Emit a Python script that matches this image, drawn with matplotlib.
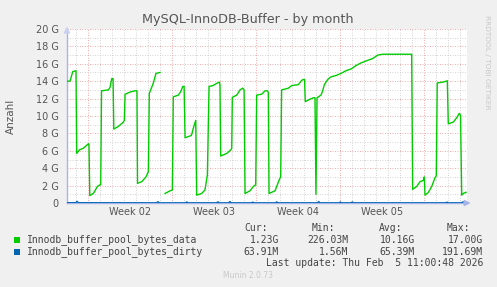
import numpy as np
import matplotlib
matplotlib.use("Agg")
import matplotlib.pyplot as plt

# ---- data (days relative to Monday of Week 02, values in G) ----
data_days = [-1.80, -1.53, -1.30, -1.03, -0.97, -0.75, -0.42, 0.0, 0.05, 0.12, 0.42, 0.75, 0.98,
             1.03, 1.10, 1.67, 1.81, 1.95, 2.06, 2.12, 2.50, 2.92, 3.00, 3.06, 3.47, 3.89, 4.05,
             4.10, 4.45, 4.80, 5.00, 5.08, 5.42, 5.64, 5.97, 6.10,
             6.39, 6.81, 7.00, 7.08, 7.50, 7.70, 7.87, 7.98, 8.06, 8.47, 8.60, 8.75, 8.95,
             9.03, 9.45, 9.72, 9.92, 10.06, 10.39, 10.70, 10.92, 10.97, 11.03, 11.53, 11.87,
             11.95, 12.00, 12.37, 12.64, 12.87, 12.98, 13.06, 13.47, 13.75, 13.95, 14.03,
             14.45, 14.73, 14.92, 15.00, 15.06, 15.56, 15.70, 15.92, 16.03, 16.11, 16.67,
             16.95, 17.50, 17.78, 17.92, 18.02, 18.08, 18.42, 18.78, 18.89, 18.97, 19.06,
             19.39, 19.53, 19.67, 19.95, 20.22, 20.64, 21.06, 21.47, 21.89, 22.31, 22.73,
             23.28, 23.70, 24.12, 24.53, 26.95, 27.03, 27.37, 27.64, 27.92, 28.00, 28.06,
             28.33, 28.62, 28.89, 29.00, 29.08, 29.58, 29.92, 30.00, 30.42, 30.70, 30.92,
             31.02, 31.12, 31.25, 31.48]
data_vals = [14.0, 14.0, 15.1, 15.2, 5.7, 6.1, 6.3, 6.8, 6.8, 0.85, 1.1, 1.9, 2.1,
             2.1, 12.9, 13.0, 13.3, 14.3, 14.3, 8.5, 8.8, 9.3, 9.5, 12.5, 12.75, 12.9, 12.9,
             2.26, 2.45, 3.0, 3.6, 12.6, 13.8, 14.9, 15.0, np.nan,
             1.1, 1.4, 1.5, 12.2, 12.4, 12.8, 13.4, 13.4, 7.5, 7.7, 7.8, 8.6, 9.5,
             0.9, 1.1, 1.5, 3.2, 13.4, 13.5, 13.75, 13.9, 13.6, 5.4, 5.7, 6.1,
             6.3, 12.15, 12.4, 13.0, 13.2, 13.0, 1.1, 1.4, 1.9, 2.1, 12.4,
             12.5, 12.9, 12.9, 12.7, 1.1, 1.4, 1.9, 2.7, 3.0, 13.0, 13.2,
             13.5, 13.6, 14.1, 14.2, 14.2, 11.65, 11.9, 12.1, 12.1, 1.0, 12.1,
             12.4, 12.9, 13.6, 14.2, 14.5, 14.65, 14.9, 15.2, 15.4, 15.8, 16.1,
             16.4, 16.6, 17.0, 17.1, 17.1, 1.57, 1.9, 2.45, 2.6, 3.0, 0.9,
             1.2, 1.9, 2.9, 3.1, 13.8, 13.9, 14.05, 9.1, 9.3, 9.8, 10.3,
             10.1, 0.9, 1.1, 1.23]

dirty_days = [-1.80, -1.05, -0.94, -0.83, 5.70, 5.80, 5.90, 8.10, 8.20, 8.30, 10.70, 10.80,
              10.90, 11.70, 11.80, 11.90, 13.60, 13.70, 13.80, 15.60, 15.70, 15.80, 19.10,
              19.20, 19.30, 20.90, 21.00, 21.10, 21.90, 22.00, 22.10, 29.80, 29.90, 30.00,
              31.10, 31.20, 31.48]
dirty_vals = [0.03, 0.03, 0.19, 0.03, 0.02, 0.15, 0.02, 0.02, 0.12, 0.02, 0.02, 0.14,
              0.02, 0.02, 0.17, 0.02, 0.02, 0.10, 0.02, 0.02, 0.13, 0.02, 0.02,
              0.16, 0.02, 0.02, 0.11, 0.02, 0.02, 0.12, 0.02, 0.02, 0.10, 0.02,
              0.02, 0.12, 0.06]

y_ticks = [0, 2, 4, 6, 8, 10, 12, 14, 16, 18, 20]
y_labels = ["0", "2 G", "4 G", "6 G", "8 G", "10 G", "12 G", "14 G", "16 G", "18 G", "20 G"]
week_starts = [0, 7, 14, 21, 28]
week_labels = ["Week 02", "Week 03", "Week 04", "Week 05"]
x_min, x_max = -1.78, 31.56

legend_names = ["Innodb_buffer_pool_bytes_data", "Innodb_buffer_pool_bytes_dirty"]
legend_colors = ["#00CC00", "#0066B3"]
col_headers = ["Cur:", "Min:", "Avg:", "Max:"]
stats = [["1.23G", "226.03M", "10.16G", "17.00G"],
         ["63.91M", "1.56M", "65.39M", "191.69M"]]

W, H = 497, 287
fig = plt.figure(figsize=(W / 100, H / 100), dpi=100, facecolor="#F0F0F0")
ax = fig.add_axes([67 / W, (H - 203) / H, 400 / W, 174 / H])
ax.set_facecolor("white")
ax.set_xlim(x_min, x_max)
ax.set_ylim(0, 20)

# grid
for d in range(int(np.ceil(x_min)), int(np.floor(x_max)) + 1):
    if d not in week_starts:
        ax.axvline(d, color="#C4C4C4", lw=0.6, ls=(0, (1, 2)), zorder=0)
for yy in range(1, 20, 2):
    ax.axhline(yy, color="#C4C4C4", lw=0.6, ls=(0, (1, 2)), zorder=0)
for d in week_starts:
    ax.axvline(d, color="#EE8E8E", lw=0.6, ls=(0, (1, 2)), zorder=0.5)
for yy in y_ticks[1:]:
    ax.axhline(yy, color="#EE8E8E", lw=0.6, ls=(0, (1, 2)), zorder=0.5)

ax.plot(data_days, data_vals, color=legend_colors[0], lw=1.0, zorder=3)
ax.plot(dirty_days, dirty_vals, color=legend_colors[1], lw=1.0, zorder=3)

for s in ["top", "right"]:
    ax.spines[s].set_visible(False)
for s in ["left", "bottom"]:
    ax.spines[s].set_color("#A8B4E8")
    ax.spines[s].set_linewidth(1.0)

ax.set_yticks(y_ticks)
ax.set_yticklabels(y_labels)
centers = [w + 3.5 for w in week_starts[:-1]]
ax.set_xticks(centers)
ax.set_xticklabels(week_labels)
ax.tick_params(axis="both", length=0, labelsize=7, labelcolor="#555555", pad=3)
ax.tick_params(axis="y", pad=6)
ax.tick_params(axis="x", pad=3)

# axis arrows
ax.annotate("", xy=(1.016, 0), xytext=(0.99, 0), xycoords="axes fraction",
            arrowprops=dict(arrowstyle="-|>,head_width=0.18,head_length=0.35",
                            color="#A8B4E8", lw=1.0), annotation_clip=False)
ax.annotate("", xy=(0, 1.03), xytext=(0, 0.98), xycoords="axes fraction",
            arrowprops=dict(arrowstyle="-|>,head_width=0.18,head_length=0.35",
                            color="#C8D0F0", lw=1.0), annotation_clip=False)

ax.set_ylabel("Anzahl", fontsize=7.5, color="#555555", labelpad=6)
ax.yaxis.set_label_coords(-0.128, 0.5)

fig.text(248 / W, 1 - 19.5 / H, "MySQL-InnoDB-Buffer - by month", ha="center", va="center",
         fontsize=9.2, color="#555555")
fig.text(487 / W, 1 - 15 / H, "RRDTOOL / TOBI OETIKER", rotation=-90, ha="center", va="top",
         fontsize=5.3, color="#C8C8C8")

mono = "DejaVu Sans Mono"
tc = "#444444"
hdr_x = [244, 312, 379, 447]
val_right = [279, 348, 415, 483]
for h, x in zip(col_headers, hdr_x):
    fig.text(x / W, 1 - 228 / H, h, ha="left", va="center", fontsize=7, family=mono, color=tc)
for i, (name, col) in enumerate(zip(legend_names, legend_colors)):
    yy = 240 + 12 * i
    fig.patches.append(plt.Rectangle((14 / W, 1 - (yy + 3) / H), 6 / W, 6 / H,
                                     transform=fig.transFigure, facecolor=col, edgecolor="none"))
    fig.text(27 / W, 1 - yy / H, name, ha="left", va="center", fontsize=7, family=mono, color=tc)
    for v, xr in zip(stats[i], val_right):
        fig.text(xr / W, 1 - yy / H, v, ha="right", va="center", fontsize=7, family=mono, color=tc)
fig.text(483 / W, 1 - 263 / H, "Last update: Thu Feb  5 11:00:48 2026", ha="right", va="center",
         fontsize=7, family=mono, color=tc)
fig.text(248 / W, 1 - 276 / H, "Munin 2.0.73", ha="center", va="center", fontsize=5.5,
         color="#C8C8C8")

fig.savefig("out.png", dpi=100, facecolor=fig.get_facecolor())
